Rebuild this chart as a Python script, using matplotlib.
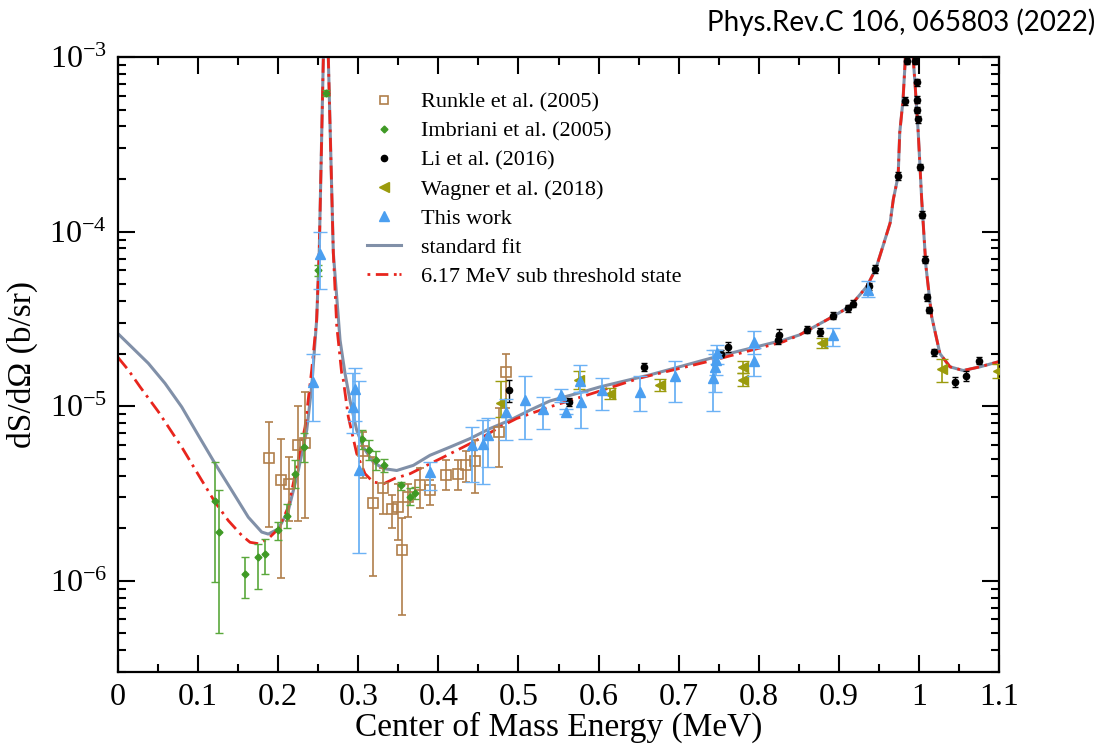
import matplotlib.pyplot as plt
from matplotlib.lines import Line2D
from matplotlib.ticker import MultipleLocator, LogLocator, NullFormatter
import numpy as np

plt.rcParams['font.family'] = ['Liberation Serif', 'DejaVu Serif']
plt.rcParams['mathtext.fontset'] = 'custom'
plt.rcParams['mathtext.rm'] = 'Liberation Serif'
plt.rcParams['lines.scale_dashes'] = False

# standard fit curve (MeV, b/sr)
fit_x = [0.000, 0.0378, 0.0587, 0.0795, 0.1003, 0.1211, 0.142, 0.1627, 0.1794, 0.1876, 0.2001,
         0.2126, 0.2251, 0.2356, 0.2418, 0.248, 0.2512, 0.2563, 0.2595, 0.2626, 0.2688,
         0.2772, 0.2834, 0.2896, 0.298, 0.3062, 0.3187, 0.3312, 0.348, 0.3687, 0.3895,
         0.4145, 0.4395, 0.4644, 0.4894, 0.5144, 0.539, 0.581, 0.602, 0.664, 0.747, 0.831,
         0.851, 0.893, 0.914, 0.935, 0.946, 0.955, 0.964, 0.968, 0.974, 0.976, 0.980, 0.9825,
         0.9877, 0.9929, 0.995, 0.9991, 1.0034, 1.0087, 1.0158, 1.0262, 1.0387, 1.0553, 1.0762, 1.100]
fit_y = [2.6e-5, 1.76e-5, 1.35e-5, 9.9e-6, 6.8e-6, 4.69e-6, 3.29e-6, 2.31e-6, 1.9e-6, 1.85e-6, 1.98e-6,
         2.52e-6, 4.28e-6, 7.28e-6, 1.29e-5, 3.12e-5, 7.57e-5, 9.7e-4, 3e-3, 9.7e-4, 7.57e-5,
         2.39e-5, 1.54e-5, 1.08e-5, 7.28e-6, 5.83e-6, 4.78e-6, 4.39e-6, 4.28e-6, 4.58e-6, 5.23e-6,
         5.83e-6, 6.52e-6, 7.44e-6, 8.31e-6, 9.49e-6, 1.07e-5, 1.21e-5, 1.29e-5, 1.51e-5, 1.92e-5, 2.39e-5,
         2.56e-5, 3.27e-5, 3.73e-5, 4.85e-5, 6.1e-5, 8.24e-5, 1.12e-4, 1.53e-4, 2.08e-4, 3.69e-4, 5.6e-4, 8.9e-4,
         3e-3, 9.7e-4, 7.15e-4, 3.69e-4, 1.53e-4, 6.33e-5, 3.27e-5, 2.0e-5, 1.68e-5, 1.6e-5, 1.68e-5, 1.8e-5]

# 6.17 MeV sub threshold state curve
sub_x = [0.000, 0.0129, 0.0275, 0.0503, 0.0795, 0.1045, 0.1211, 0.1377, 0.1544, 0.1648, 0.1752,
         0.1876, 0.2001, 0.2126, 0.2231, 0.2335, 0.2418, 0.248, 0.2512, 0.2563, 0.2595, 0.2626,
         0.2688, 0.273, 0.2792, 0.2813, 0.2875, 0.298, 0.3084, 0.3187, 0.332, 0.3458, 0.3645,
         0.3854, 0.4061, 0.4311, 0.454, 0.4769, 0.4978, 0.539, 0.594, 0.652, 0.747, 0.831,
         0.851, 0.893, 0.914, 0.935, 0.946, 0.955, 0.964, 0.968, 0.974, 0.976, 0.980, 0.9825,
         0.9877, 0.9929, 0.995, 0.9991, 1.0034, 1.0087, 1.0158, 1.0262, 1.0387, 1.0553, 1.0762, 1.100]
sub_y = [1.9e-5, 1.61e-5, 1.29e-5, 9.3e-6, 5.83e-6, 3.76e-6, 2.82e-6, 2.21e-6, 1.82e-6, 1.66e-6, 1.63e-6,
         1.74e-6, 1.98e-6, 2.64e-6, 4.48e-6, 7.6e-6, 1.61e-5, 3.12e-5, 7.57e-5, 9.7e-4, 3e-3, 9.7e-4,
         7.57e-5, 2.9e-5, 1.55e-5, 1.41e-5, 8.7e-6, 5.35e-6, 4.1e-6, 3.67e-6, 3.6e-6, 3.86e-6, 4.1e-6,
         4.58e-6, 5.1e-6, 5.83e-6, 6.6e-6, 7.6e-6, 8.5e-6, 9.9e-6, 1.19e-5, 1.45e-5, 1.85e-5, 2.34e-5,
         2.56e-5, 3.27e-5, 3.73e-5, 4.85e-5, 6.1e-5, 8.24e-5, 1.12e-4, 1.53e-4, 2.08e-4, 3.69e-4, 5.6e-4, 8.9e-4,
         3e-3, 9.7e-4, 7.15e-4, 3.69e-4, 1.53e-4, 6.33e-5, 3.27e-5, 2.0e-5, 1.68e-5, 1.6e-5, 1.68e-5, 1.8e-5]

# Runkle et al. (2005)
runkle_x = [0.188, 0.204, 0.214, 0.225, 0.233, 0.306, 0.318, 0.331, 0.342, 0.350, 0.354,
            0.362, 0.377, 0.390, 0.409, 0.425, 0.435, 0.446, 0.476, 0.484]
runkle_y = [5.07e-6, 3.76e-6, 3.6e-6, 5.97e-6, 6.15e-6, 5.5e-6, 2.78e-6, 3.4e-6, 2.57e-6, 2.63e-6, 1.5e-6,
            3.0e-6, 3.55e-6, 3.3e-6, 4.05e-6, 4.1e-6, 4.6e-6, 4.85e-6, 7.1e-6, 1.57e-5]
runkle_lo = [2.02e-6, 1.04e-6, 2.2e-6, 2.2e-6, 2.3e-6, 3.9e-6, 1.06e-6, 2.4e-6, 2.0e-6, 1.72e-6, 6.4e-7,
             2.33e-6, 2.6e-6, 2.7e-6, 3.3e-6, 3.3e-6, 3.7e-6, 3.2e-6, 4.5e-6, 9.8e-6]
runkle_hi = [8.1e-6, 6.5e-6, 5.1e-6, 1.0e-5, 1.2e-5, 7.1e-6, 5.1e-6, 4.4e-6, 3.1e-6, 3.6e-6, 2.3e-6,
             3.6e-6, 4.4e-6, 3.8e-6, 4.9e-6, 4.9e-6, 5.5e-6, 6.4e-6, 9.8e-6, 2.0e-5]

# Imbriani et al. (2005)
imb_x = [0.121, 0.126, 0.158, 0.175, 0.184, 0.200, 0.211, 0.221, 0.232, 0.250, 0.2595,
         0.304, 0.313, 0.3225, 0.332, 0.353, 0.3645, 0.371]
imb_y = [2.86e-6, 1.90e-6, 1.09e-6, 1.36e-6, 1.42e-6, 1.94e-6, 2.36e-6, 4.1e-6, 5.84e-6, 6.0e-5, 6.26e-4,
         6.45e-6, 5.58e-6, 4.9e-6, 4.58e-6, 3.52e-6, 3.0e-6, 3.2e-6]
imb_lo = [9.8e-7, 5.05e-7, 8.0e-7, 8.95e-7, 1.09e-6, 1.72e-6, 2.0e-6, 3.4e-6, 4.8e-6, 5.6e-5, 6.0e-4,
          5.7e-6, 4.9e-6, 4.3e-6, 4.2e-6, 3.3e-6, 2.7e-6, 2.95e-6]
imb_hi = [4.79e-6, 3.29e-6, 1.36e-6, 1.63e-6, 1.73e-6, 2.16e-6, 2.75e-6, 4.9e-6, 7.0e-6, 6.4e-5, 6.5e-4,
          7.3e-6, 6.4e-6, 5.5e-6, 5.0e-6, 3.7e-6, 3.4e-6, 3.45e-6]

# Li et al. (2016)
li_x = [0.488, 0.5636, 0.657, 0.753, 0.762, 0.824, 0.825, 0.860, 0.877, 0.893, 0.912, 0.9177,
        0.938, 0.9446, 0.9736, 0.982, 0.9845, 0.9955, 0.997, 0.9975, 0.9978, 0.999, 1.0008,
        1.0041, 1.008, 1.0099, 1.0124, 1.0187, 1.045, 1.059, 1.075]
li_y = [1.24e-5, 1.06e-5, 1.68e-5, 2.0e-5, 2.19e-5, 2.4e-5, 2.56e-5, 2.74e-5, 2.66e-5, 3.29e-5, 3.64e-5, 3.86e-5,
        4.85e-5, 6.1e-5, 2.08e-4, 5.6e-4, 9.5e-4, 9.5e-4, 7.15e-4, 5.7e-4, 5.0e-4, 4.4e-4, 2.34e-4,
        1.25e-4, 6.9e-5, 4.2e-5, 3.56e-5, 2.03e-5, 1.38e-5, 1.49e-5, 1.82e-5]
li_err = [1.8e-6, 0.6e-6, 0.8e-6, 1.0e-6, 1.5e-6, 1.2e-6, 2.0e-6, 1.2e-6, 1.5e-6, 1.5e-6, 1.6e-6, 1.8e-6,
          2.5e-6, 3e-6, 1e-5, 3e-5, 4e-5, 4e-5, 3e-5, 2.5e-5, 2e-5, 2e-5, 1e-5,
          6e-6, 3e-6, 2e-6, 1.6e-6, 1.0e-6, 0.9e-6, 0.9e-6, 0.8e-6]

# Wagner et al. (2018)
wag_x = [0.478, 0.575, 0.6145, 0.677, 0.780, 0.780, 0.879, 1.029, 1.099]
wag_y = [1.04e-5, 1.41e-5, 1.18e-5, 1.32e-5, 1.68e-5, 1.41e-5, 2.31e-5, 1.63e-5, 1.59e-5]
wag_lo = [8.7e-6, 1.25e-5, 1.1e-5, 1.22e-5, 1.55e-5, 1.3e-5, 2.15e-5, 1.37e-5, 1.45e-5]
wag_hi = [1.39e-5, 1.6e-5, 1.27e-5, 1.43e-5, 1.82e-5, 1.55e-5, 2.45e-5, 1.87e-5, 1.75e-5]

# This work
tw_x = [0.2429, 0.2526, 0.2936, 0.2956, 0.3005, 0.3895, 0.442, 0.4555, 0.462, 0.484, 0.508,
        0.530, 0.553, 0.559, 0.577, 0.578, 0.604, 0.652, 0.696, 0.743, 0.745, 0.7466, 0.748,
        0.794, 0.7945, 0.893, 0.937]
tw_y = [1.38e-5, 7.45e-5, 9.9e-6, 1.26e-5, 4.3e-6, 4.2e-6, 5.97e-6, 6.1e-6, 6.8e-6, 9.3e-6, 1.08e-5,
        9.6e-6, 1.16e-5, 9.3e-6, 1.39e-5, 1.05e-5, 1.24e-5, 1.21e-5, 1.49e-5, 1.45e-5, 1.68e-5, 1.84e-5, 2.01e-5,
        2.34e-5, 1.82e-5, 2.56e-5, 4.65e-5]
tw_lo = [8.2e-6, 4.7e-5, 7.0e-6, 8.2e-6, 1.45e-6, 3.3e-6, 3.7e-6, 3.6e-6, 4.5e-6, 6.4e-6, 6.5e-6,
         7.4e-6, 1.05e-5, 9.0e-6, 1.2e-5, 7.5e-6, 9.5e-6, 9.4e-6, 1.05e-5, 9.4e-6, 1.2e-5, 1.5e-5, 1.75e-5,
         1.98e-5, 1.48e-5, 2.2e-5, 4.2e-5]
tw_hi = [2.0e-5, 1.0e-4, 1.55e-5, 1.65e-5, 1.4e-5, 4.8e-6, 7.6e-6, 8.3e-6, 8.5e-6, 1.1e-5, 1.49e-5,
         1.13e-5, 1.25e-5, 9.6e-6, 1.72e-5, 1.2e-5, 1.44e-5, 1.48e-5, 1.82e-5, 2.1e-5, 2.0e-5, 2.1e-5, 2.25e-5,
         2.7e-5, 2.15e-5, 2.8e-5, 5.2e-5]

c_runkle = '#b07f4c'
c_imb = '#3f9a25'
c_li = 'black'
c_wag = '#9b9b0c'
c_tw = '#4b9ff0'
c_fit = '#8190a8'
c_sub = '#e8251d'


def bars(y, lo, hi):
    y = np.array(y)
    return [y - np.array(lo), np.array(hi) - y]


fig = plt.figure(figsize=(11.01, 7.47), dpi=100)
ax = fig.add_axes([0.1072, 0.1004, 0.8002, 0.8233])

ax.plot(fit_x, fit_y, color=c_fit, lw=2.2, zorder=2)
ax.plot(sub_x, sub_y, color=c_sub, lw=2.0, ls=(0, (10, 4, 2, 4)), zorder=2.1)

ax.errorbar(runkle_x, runkle_y, yerr=bars(runkle_y, runkle_lo, runkle_hi), fmt='s', ms=7,
            mfc='none', mec=c_runkle, mew=1.2, ecolor=c_runkle, elinewidth=1.2, capsize=3, zorder=3)
ax.errorbar(imb_x, imb_y, yerr=bars(imb_y, imb_lo, imb_hi), fmt='D', ms=3.5,
            color=c_imb, ecolor='#5aa83c', elinewidth=1.2, capsize=3, zorder=3)
ax.errorbar(li_x, li_y, yerr=li_err, fmt='o', ms=4.5, color=c_li, elinewidth=1.0, capsize=2, zorder=3)
ax.errorbar(wag_x, wag_y, yerr=bars(wag_y, wag_lo, wag_hi), fmt='<', ms=7,
            color=c_wag, ecolor=c_wag, elinewidth=1.2, capsize=4, zorder=3)
ax.errorbar(tw_x, tw_y, yerr=bars(tw_y, tw_lo, tw_hi), fmt='^', ms=7,
            color=c_tw, ecolor='#6cb2f5', elinewidth=1.3, capsize=5, zorder=3.5)

ax.set_xlim(0, 1.1)
ax.set_yscale('log')
ax.set_ylim(3e-7, 1e-3)

ax.set_xticks(np.arange(0, 1.11, 0.1))
ax.set_xticklabels(['0', '0.1', '0.2', '0.3', '0.4', '0.5', '0.6', '0.7', '0.8', '0.9', '1', '1.1'])
ax.xaxis.set_minor_locator(MultipleLocator(0.05))
ax.set_yticks([1e-6, 1e-5, 1e-4, 1e-3])
ax.set_yticklabels([r'$\mathregular{10^{-6}}$', r'$\mathregular{10^{-5}}$',
                    r'$\mathregular{10^{-4}}$', r'$\mathregular{10^{-3}}$'])
ax.yaxis.set_minor_locator(LogLocator(base=10, subs=np.arange(2, 10)))
ax.yaxis.set_minor_formatter(NullFormatter())

ax.tick_params(which='both', direction='in', top=True, right=True, labelsize=23, width=1.5)
ax.tick_params(which='major', length=12, pad=8)
ax.tick_params(which='minor', length=6)
for s in ax.spines.values():
    s.set_linewidth(1.6)

ax.set_xlabel('Center of Mass Energy (MeV)', fontsize=24, labelpad=0)
ax.set_ylabel('dS/dΩ (b/sr)', fontsize=24, labelpad=8)

handles = [
    Line2D([], [], ls='none', marker='s', ms=6, mfc='none', mec=c_runkle, mew=1.2),
    Line2D([], [], ls='none', marker='D', ms=3.5, color=c_imb),
    Line2D([], [], ls='none', marker='o', ms=4.5, color=c_li),
    Line2D([], [], ls='none', marker='<', ms=7, color=c_wag),
    Line2D([], [], ls='none', marker='^', ms=7, color=c_tw),
    Line2D([], [], color=c_fit, lw=2.2),
    Line2D([], [], color=c_sub, lw=2.0, ls=(0, (2, 4, 9, 4, 2))),
]
labels = ['Runkle et al. (2005)', 'Imbriani et al. (2005)', 'Li et al. (2016)',
          'Wagner et al. (2018)', 'This work', 'standard fit', '6.17 MeV sub threshold state']
ax.legend(handles, labels, loc='upper left', bbox_to_anchor=(0.283, 0.943), frameon=False,
          fontsize=16, handlelength=1.5, handletextpad=0.9, labelspacing=0.38, borderpad=0,
          borderaxespad=0)

fig.text(0.995, 0.97, 'Phys.Rev.C 106, 065803 (2022)', ha='right', va='center',
         fontsize=20, family=['Lato', 'DejaVu Sans'])

fig.savefig('out.png', dpi=100)
